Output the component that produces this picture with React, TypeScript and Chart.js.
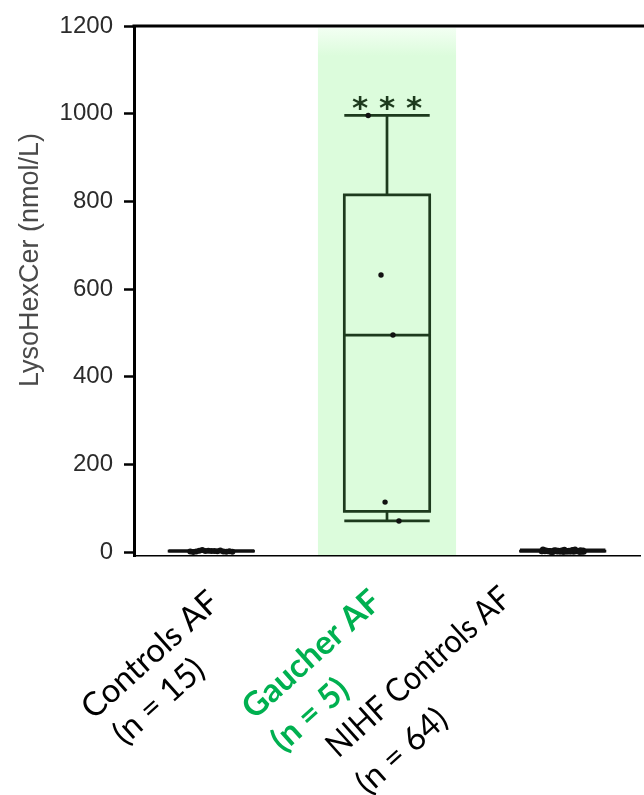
import { useEffect, useRef } from "react";
import { Chart, registerables } from "chart.js";

Chart.register(...registerables);

// ---------- data ----------
const CATEGORIES = ["Controls AF", "Gaucher AF", "NIHF Controls AF"];
const X_LABEL_LINES = [
  ["Controls AF", "(n = 15)"],
  ["Gaucher AF", "(n = 5)"],
  ["NIHF Controls AF", "(n = 64)"],
];
const Y_TICKS = [0, 200, 400, 600, 800, 1000, 1200];
const Y_TITLE = "LysoHexCer (nmol/L)";
const SIGNIFICANCE = ["", "* * *", ""];

const BOX_MIN = [0.3, 71, 0.2];
const BOX_Q1 = [1.2, 93, 1.1];
const BOX_MEDIAN = [2.1, 495, 2.0];
const BOX_Q3 = [3.2, 815, 3.0];
const BOX_MAX = [4.6, 996, 6.1];

const CONTROLS_VALUES = [1.2, 2.5, 0.8, 3.1, 1.9, 2.2, 0.5, 4.6, 1.5, 2.8, 3.5, 1.1, 2.0, 0.3, 2.6];
const GAUCHER_VALUES = [996, 632, 495, 114, 71];
const GAUCHER_JITTER = [-0.107, -0.034, 0.034, -0.011, 0.068];
const NIHF_VALUES = [
  1.8, 2.4, 0.9, 3.2, 1.5, 2.7, 1.1, 4.1,
  2.0, 0.7, 3.6, 1.9, 2.3, 1.4, 5.0, 2.9,
  0.6, 1.7, 3.3, 2.1, 1.2, 4.4, 2.6, 0.8,
  1.6, 3.0, 2.2, 1.0, 3.8, 2.5, 1.3, 2.8,
  0.5, 1.9, 4.7, 2.0, 1.5, 3.4, 2.4, 0.9,
  1.8, 2.9, 1.1, 3.1, 2.3, 1.6, 5.6, 2.1,
  0.7, 1.4, 3.7, 2.6, 1.2, 2.0, 4.2, 1.7,
  2.8, 0.8, 3.5, 2.2, 1.0, 2.5, 6.1, 0.2,
];

// ---------- styling ----------
const BOX_HALF = 0.243; // half box width in category units
const BAND_HALF = 0.393; // half width of the highlighted column
const SPREAD = 0.24; // jitter spread for dense groups
const BOX_COLORS = ["#111111", "#1d3a1d", "#111111"];
const BOX_WIDTHS = [1.8, 2.7, 1.8];
const LABEL_COLORS = ["#000000", "#00b050", "#000000"];
const LABEL_BOLD = [false, true, false];
const LABEL_OFFSETS = [
  [[-61, 99], [-52.5, 145.5]],
  [[-75.5, 98.5], [-77, 159]],
  [[-144, 116], [-161, 195]],
];
const LABEL_SCALE_X = [
  [1, 1],
  [1, 1],
  [0.91, 1],
];
const LABEL_ANGLE = (-42 * Math.PI) / 180;

function spreadJitter(n: number) {
  const out: number[] = [];
  for (let i = 0; i < n; i++) {
    const k = (i * 7) % n;
    out.push((n > 1 ? k / (n - 1) - 0.5 : 0) * SPREAD);
  }
  return out;
}

const boxPlugin = {
  id: "boxplot",
  beforeDraw(chart: any) {
    const { ctx, chartArea: a, scales } = chart;
    const x = scales.x;
    const l = x.getPixelForValue(1 - BAND_HALF);
    const r = x.getPixelForValue(1 + BAND_HALF);
    ctx.save();
    const g = ctx.createLinearGradient(0, a.top, 0, a.top + 30);
    g.addColorStop(0, "#f4fff4");
    g.addColorStop(1, "#dcfcdc");
    ctx.fillStyle = g;
    ctx.fillRect(l, a.top + 2, r - l, a.bottom - a.top - 2);
    ctx.restore();
  },
  beforeDatasetsDraw(chart: any) {
    const { ctx, scales } = chart;
    const x = scales.x;
    const y = scales.y;
    ctx.save();
    for (let i = 0; i < CATEGORIES.length; i++) {
      const cx = x.getPixelForValue(i);
      const hw = x.getPixelForValue(i + BOX_HALF) - cx;
      const yMin = y.getPixelForValue(BOX_MIN[i]);
      const yQ1 = y.getPixelForValue(BOX_Q1[i]);
      const yMed = y.getPixelForValue(BOX_MEDIAN[i]);
      const yQ3 = y.getPixelForValue(BOX_Q3[i]);
      const yMax = y.getPixelForValue(BOX_MAX[i]);
      ctx.strokeStyle = BOX_COLORS[i];
      ctx.lineWidth = BOX_WIDTHS[i];
      ctx.lineCap = "butt";
      ctx.beginPath();
      ctx.rect(cx - hw, yQ3, 2 * hw, yQ1 - yQ3);
      ctx.moveTo(cx - hw, yMed);
      ctx.lineTo(cx + hw, yMed);
      ctx.moveTo(cx, yQ3);
      ctx.lineTo(cx, yMax);
      ctx.moveTo(cx, yQ1);
      ctx.lineTo(cx, yMin);
      ctx.moveTo(cx - hw, yMax);
      ctx.lineTo(cx + hw, yMax);
      ctx.moveTo(cx - hw, yMin);
      ctx.lineTo(cx + hw, yMin);
      ctx.stroke();
    }
    ctx.restore();
  },
  afterDraw(chart: any) {
    const { ctx, chartArea: a, scales } = chart;
    const x = scales.x;
    const y = scales.y;
    ctx.save();
    // top frame line
    ctx.strokeStyle = "#000";
    ctx.lineWidth = 3;
    ctx.beginPath();
    ctx.moveTo(a.left - 1.5, a.top);
    ctx.lineTo(chart.width, a.top);
    ctx.stroke();

    // y title
    ctx.save();
    ctx.translate(a.left - 96, (a.top + a.bottom) / 2 - 31);
    ctx.rotate(-Math.PI / 2);
    ctx.font = '27px "Liberation Sans", Arial, sans-serif';
    ctx.fillStyle = "#4a4a4a";
    ctx.textAlign = "center";
    ctx.textBaseline = "alphabetic";
    ctx.fillText(Y_TITLE, 0, 0);
    ctx.restore();

    // significance
    for (let i = 0; i < CATEGORIES.length; i++) {
      if (!SIGNIFICANCE[i]) continue;
      ctx.font = 'bold 31px "DejaVu Sans", sans-serif';
      ctx.fillStyle = BOX_COLORS[i];
      ctx.textAlign = "center";
      ctx.textBaseline = "alphabetic";
      ctx.fillText(SIGNIFICANCE[i], x.getPixelForValue(i), y.getPixelForValue(BOX_MAX[i]) + 3);
    }

    // category labels
    for (let i = 0; i < CATEGORIES.length; i++) {
      const cx = x.getPixelForValue(i);
      X_LABEL_LINES[i].forEach((line, j) => {
        const [dx, dy] = LABEL_OFFSETS[i][j];
        ctx.save();
        ctx.translate(cx + dx, a.bottom + dy);
        ctx.rotate(LABEL_ANGLE);
        ctx.scale(LABEL_SCALE_X[i][j], 1);
        ctx.font = `${LABEL_BOLD[i] ? "bold " : ""}33px Lato, "Open Sans", sans-serif`;
        ctx.fillStyle = LABEL_COLORS[i];
        ctx.textAlign = "center";
        ctx.textBaseline = "middle";
        ctx.fillText(line, 0, 0);
        ctx.restore();
      });
    }
    ctx.restore();
  },
};

export default function App() {
  const ref = useRef<HTMLCanvasElement | null>(null);
  useEffect(() => {
    if (!ref.current) return;
    const cJ = spreadJitter(CONTROLS_VALUES.length);
    const nJ = spreadJitter(NIHF_VALUES.length);
    const pointStyle = {
      pointRadius: 3,
      pointBackgroundColor: "#111",
      pointBorderWidth: 0,
      showLine: false,
    };
    const chart = new Chart(ref.current, {
      type: "scatter",
      data: {
        datasets: [
          { label: CATEGORIES[0], data: CONTROLS_VALUES.map((v, k) => ({ x: 0 + cJ[k], y: v })), ...pointStyle },
          { label: CATEGORIES[1], data: GAUCHER_VALUES.map((v, k) => ({ x: 1 + GAUCHER_JITTER[k], y: v })), ...pointStyle, pointRadius: 2.7 },
          { label: CATEGORIES[2], data: NIHF_VALUES.map((v, k) => ({ x: 2 + nJ[k], y: v })), ...pointStyle },
        ],
      },
      options: {
        animation: false,
        responsive: true,
        maintainAspectRatio: false,
        events: [],
        layout: { padding: { top: 26, bottom: 239, left: 0, right: 0 } },
        plugins: { legend: { display: false }, tooltip: { enabled: false } },
        scales: {
          x: {
            type: "linear",
            min: -0.44,
            max: 2.44,
            afterFit: (s: any) => {
              s.height = 0;
            },
            ticks: { display: false },
            grid: { display: false },
            border: { display: true, color: "#000", width: 1.6 },
          },
          y: {
            min: -9,
            max: 1200,
            afterBuildTicks: (s: any) => {
              s.ticks = Y_TICKS.map((v) => ({ value: v }));
            },
            afterFit: (s: any) => {
              s.width = 134;
            },
            ticks: {
              font: { family: '"Liberation Sans", Arial, sans-serif', size: 24 },
              color: "#2b2b2b",
              padding: 11,
              callback: (v: any) => String(v),
            },
            grid: {
              display: true,
              drawOnChartArea: false,
              drawTicks: true,
              tickLength: 10,
              tickWidth: 2.5,
              tickColor: "#000",
            },
            border: { display: true, color: "#000", width: 3 },
          },
        },
      },
      plugins: [boxPlugin],
    });
    return () => chart.destroy();
  }, []);
  return (
    <div style={{ position: "absolute", left: 0, top: 0, width: 644, height: 795, background: "#fff" }}>
      <canvas ref={ref} />
    </div>
  );
}
